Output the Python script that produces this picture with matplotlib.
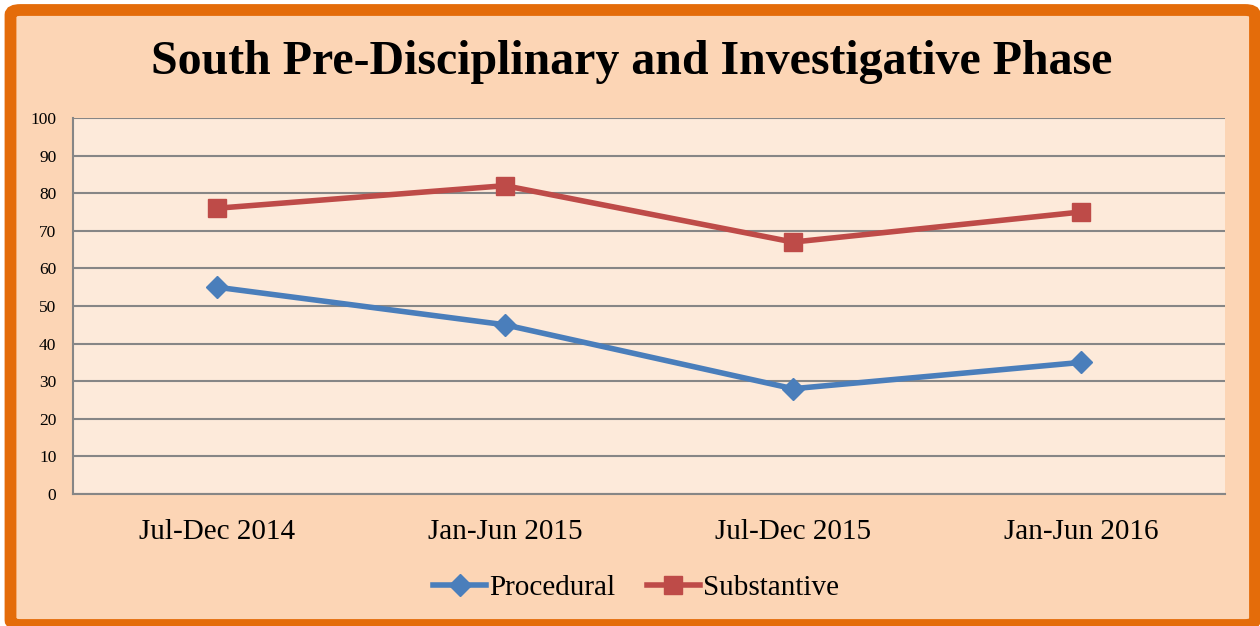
import matplotlib
matplotlib.use("Agg")
import matplotlib.pyplot as plt
from matplotlib.patches import FancyBboxPatch

categories = ["Jul-Dec 2014", "Jan-Jun 2015", "Jul-Dec 2015", "Jan-Jun 2016"]
procedural = [55, 45, 28, 35]
substantive = [76, 82, 67, 75]
yticks = [0, 10, 20, 30, 40, 50, 60, 70, 80, 90, 100]

W, H = 1260, 626
plt.rcParams["font.family"] = ["Liberation Serif", "DejaVu Serif"]
fig = plt.figure(figsize=(W / 100, H / 100), dpi=100)
fig.patch.set_facecolor("white")

# background with orange rounded border
bg = FancyBboxPatch((10.5 / W, 1 / H), 1244.5 / W, 615 / H,
                    boxstyle="round,pad=0,rounding_size=0.008",
                    transform=fig.transFigure, facecolor="#FCD5B5",
                    edgecolor="#E46C0A", linewidth=8.5, zorder=0)
fig.patches.append(bg)

ax = fig.add_axes([73 / W, (H - 494) / H, (1225 - 73) / W, (494 - 118) / H])
ax.set_zorder(2)
ax.set_facecolor("#FDEADA")
x = list(range(len(categories)))
ax.plot(x, procedural, color="#4A7EBB", linewidth=4, marker="D", markersize=11,
        label="Procedural", zorder=3)
ax.plot(x, substantive, color="#BE4B48", linewidth=4, marker="s", markersize=13,
        label="Substantive", zorder=3)

ax.set_xlim(-0.5, len(categories) - 0.5)
ax.set_ylim(0, 100)
ax.set_yticks(yticks)
ax.set_yticklabels([str(v) for v in yticks], fontsize=12.5)
ax.set_xticks(x)
ax.set_xticklabels(categories, fontsize=21)
ax.tick_params(axis="both", length=0)
ax.tick_params(axis="x", pad=18)
ax.tick_params(axis="y", pad=12)
ax.grid(axis="y", color="#868686", linewidth=1.5, zorder=1)
ax.set_axisbelow(True)
for s in ["top", "right"]:
    ax.spines[s].set_visible(False)
for s in ["left", "bottom"]:
    ax.spines[s].set_color("#868686")
    ax.spines[s].set_linewidth(1.5)

fig.text(632 / W, 1 - 62 / H, "South Pre-Disciplinary and Investigative Phase",
         ha="center", va="center", fontsize=34.5, fontweight="bold")

leg = fig.legend(loc="center", bbox_to_anchor=(636 / W, 1 - 588 / H), ncol=2,
                 frameon=False, fontsize=21, handlelength=1.8, handletextpad=0.1,
                 columnspacing=1.1)
leg.set_zorder(3)

fig.savefig("out.png", dpi=100, facecolor=fig.get_facecolor())
